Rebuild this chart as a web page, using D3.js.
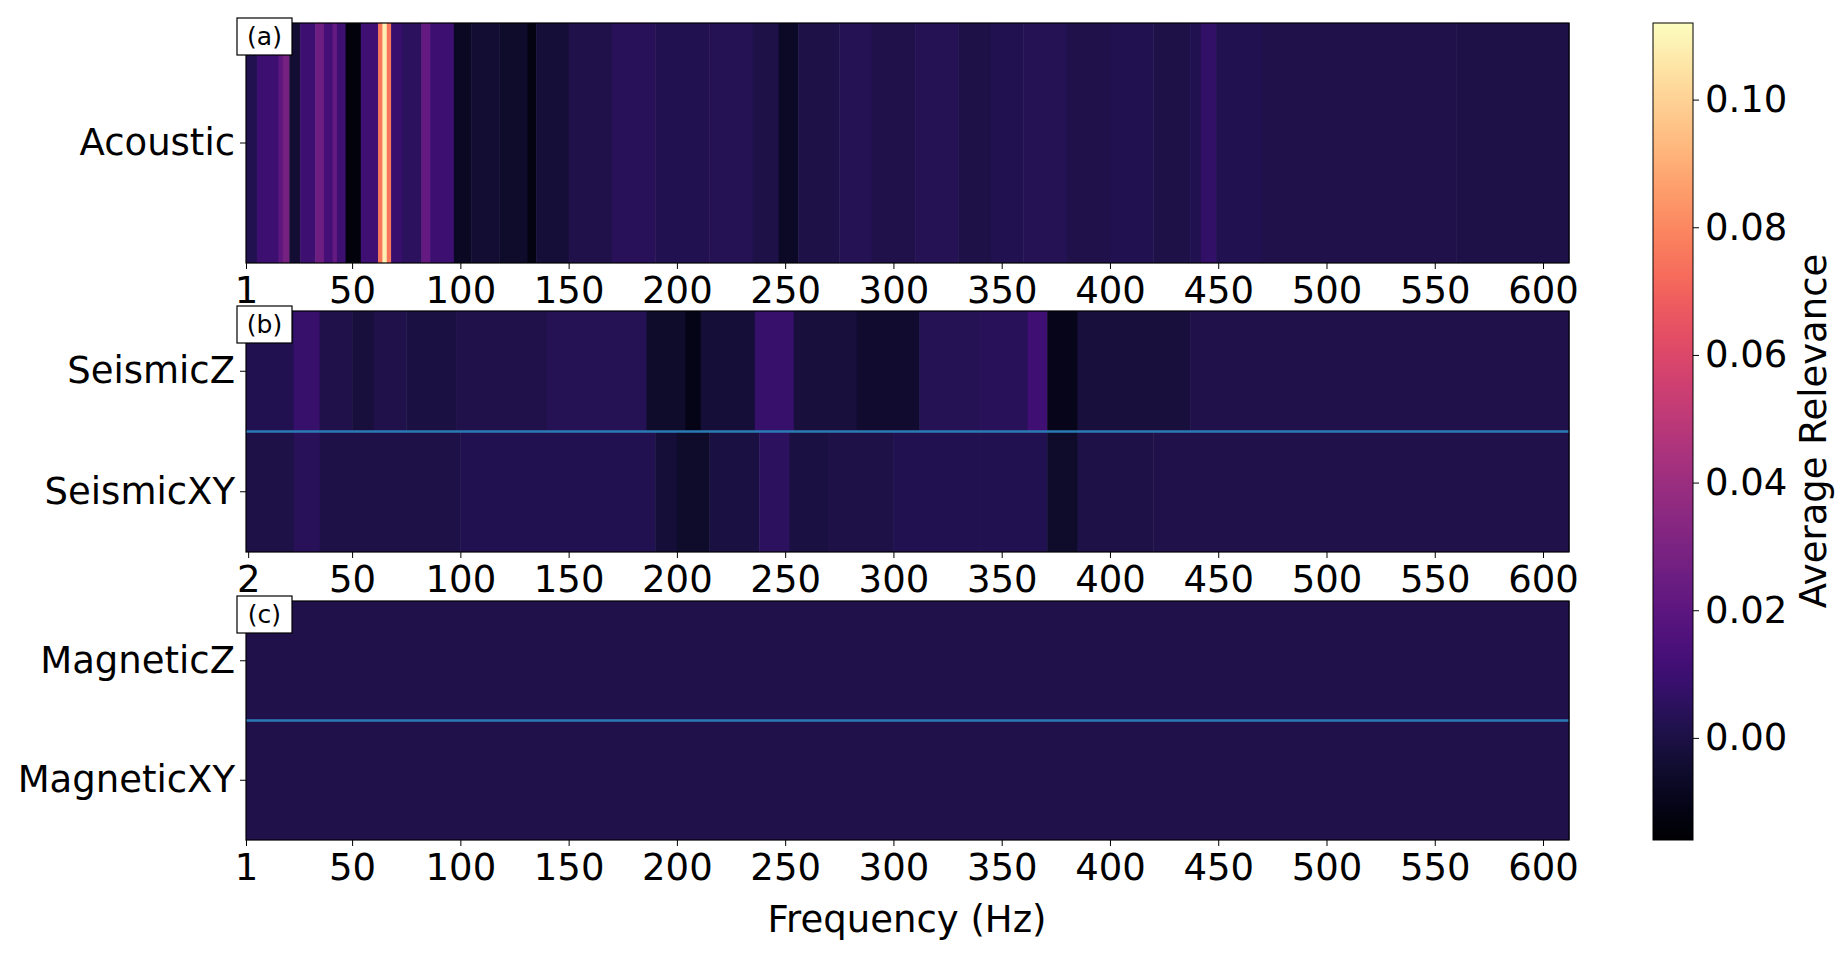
<!DOCTYPE html>
<html><head><meta charset="utf-8">
<script src="https://cdn.jsdelivr.net/npm/d3@7"></script>
<style>body{margin:0;background:#fff}text{font-family:"DejaVu Sans",sans-serif}</style>
</head><body><svg id="c" width="1847" height="960"></svg>
<script>
// Bands: [startHz, endHz, averageRelevance]
const acoustic = [[1,6,0.002],[6,16,0.01],[16,18,0.02],[18,21,0.028],[21,26,-0.004],[26,33,0.01],[33,37,0.026],[37,41,0.012],[41,43,0.022],[43,47,0.01],[47,54,-0.013],[54,62,0.011],[62,64,0.075],[64,66,0.108],[66,68,0.075],[68,73,0.009],[73,82,0.005],[82,86,0.022],[86,97,0.01],[97,105,-0.008],[105,118,-0.004],[118,131,-0.006],[131,135,-0.012],[135,150,-0.003],[150,170,0.001],[170,190,0.004],[190,215,0.002],[215,235,0.003],[235,247,0.0],[247,256,-0.007],[256,275,0.0],[275,290,0.003],[290,310,0.001],[310,330,0.003],[330,345,0.0],[345,360,0.002],[360,380,0.003],[380,400,0.001],[400,420,0.002],[420,437,0.0],[437,442,0.002],[442,449,0.007],[449,470,0.002],[470,520,0.001],[520,560,0.001],[560,612,0.0]];
const seismicZ = [[1,23,0.002],[23,35,0.008],[35,50,0.001],[50,60,-0.002],[60,75,0.001],[75,98,-0.001],[98,140,0.001],[140,186,0.003],[186,204,-0.006],[204,211,-0.011],[211,236,-0.003],[236,254,0.008],[254,283,-0.002],[283,312,-0.005],[312,340,0.003],[340,362,0.004],[362,371,0.011],[371,385,-0.01],[385,437,-0.002],[437,612,0.001]];
const seismicXY = [[1,23,0.0],[23,35,0.004],[35,100,0.0],[100,190,0.002],[190,200,-0.003],[200,215,-0.006],[215,238,-0.001],[238,252,0.005],[252,270,-0.001],[270,300,0.0],[300,340,0.002],[340,371,0.002],[371,385,-0.006],[385,420,0.0],[420,612,0.001]];
const magneticZ = [[1,612,0.001]];
const magneticXY = [[1,612,0.001]];
const xTicksA = [1,50,100,150,200,250,300,350,400,450,500,550,600];
const xTicksB = [2,50,100,150,200,250,300,350,400,450,500,550,600];
const cbTicks = [0.00,0.02,0.04,0.06,0.08,0.10];
const cbDomain = [-0.016,0.112];

const svg = d3.select("#c");
const x = d3.scaleLinear().domain([1,612]).range([246,1569]);
const color = d3.scaleSequential(d3.interpolateMagma).domain(cbDomain);
const FS = 37;

const panels = [
 {tag:"(a)", top:23, bot:263, rows:[["Acoustic",acoustic]], ticks:xTicksA},
 {tag:"(b)", top:311, bot:552, rows:[["SeismicZ",seismicZ],["SeismicXY",seismicXY]], ticks:xTicksB},
 {tag:"(c)", top:601, bot:840, rows:[["MagneticZ",magneticZ],["MagneticXY",magneticXY]], ticks:xTicksA}
];
panels.forEach(p=>{
  const y = d3.scaleBand().domain(p.rows.map(r=>r[0])).range([p.top,p.bot]);
  const g = svg.append("g");
  p.rows.forEach(([name,data])=>{
    g.selectAll(null).data(data).enter().append("rect")
      .attr("x",d=>x(d[0])).attr("width",d=>x(d[1])-x(d[0])+0.5)
      .attr("y",y(name)).attr("height",y.bandwidth()).attr("fill",d=>color(d[2]));
  });
  for(let i=1;i<p.rows.length;i++){
    g.append("line").attr("x1",x(1)).attr("x2",x(612)).attr("y1",y(p.rows[i][0])).attr("y2",y(p.rows[i][0]))
     .attr("stroke","#2a7bb4").attr("stroke-width",2.5);
  }
  g.append("rect").attr("x",x(1)).attr("y",p.top).attr("width",x(612)-x(1)).attr("height",p.bot-p.top)
   .attr("fill","none").attr("stroke","#000").attr("stroke-width",1.2);
  const ax = svg.append("g").attr("transform",`translate(0,${p.bot})`)
    .call(d3.axisBottom(x).tickValues(p.ticks).tickFormat(d3.format("d")).tickSize(6).tickPadding(8));
  ax.select(".domain").remove();
  ax.selectAll("text").attr("font-size",FS).attr("fill","#000").attr("font-family","DejaVu Sans");
  const ay = svg.append("g").attr("transform",`translate(${x(1)},0)`)
    .call(d3.axisLeft(y).tickSize(6).tickPadding(5));
  ay.select(".domain").remove();
  ay.selectAll("text").attr("font-size",FS).attr("fill","#000").attr("font-family","DejaVu Sans");
  const tg = svg.append("g");
  tg.append("rect").attr("x",237).attr("y",p.top-5).attr("width",55).attr("height",37)
    .attr("fill","#fff").attr("stroke","#000").attr("stroke-width",1.2);
  tg.append("text").attr("x",264.5).attr("y",p.top+22).attr("text-anchor","middle").attr("font-size",25).text(p.tag);
});
svg.append("text").attr("x",907).attr("y",932).attr("text-anchor","middle").attr("font-size",FS).text("Frequency (Hz)");

// colorbar
const cy = d3.scaleLinear().domain(cbDomain).range([840,23]);
const defs = svg.append("defs");
const grad = defs.append("linearGradient").attr("id","cg").attr("x1",0).attr("y1",1).attr("x2",0).attr("y2",0);
d3.range(0,1.0001,0.02).forEach(t=>grad.append("stop").attr("offset",t).attr("stop-color",d3.interpolateMagma(t)));
svg.append("rect").attr("x",1653).attr("y",23).attr("width",40).attr("height",817).attr("fill","url(#cg)")
  .attr("stroke","#000").attr("stroke-width",1);
const cax = svg.append("g").attr("transform","translate(1693,0)")
  .call(d3.axisRight(cy).tickValues(cbTicks).tickFormat(d3.format(".2f")).tickSize(6).tickPadding(6));
cax.select(".domain").remove();
cax.selectAll("text").attr("font-size",FS).attr("fill","#000").attr("font-family","DejaVu Sans");
svg.append("text").attr("transform","translate(1826,431) rotate(-90)").attr("text-anchor","middle")
  .attr("font-size",FS).text("Average Relevance");
</script></body></html>
